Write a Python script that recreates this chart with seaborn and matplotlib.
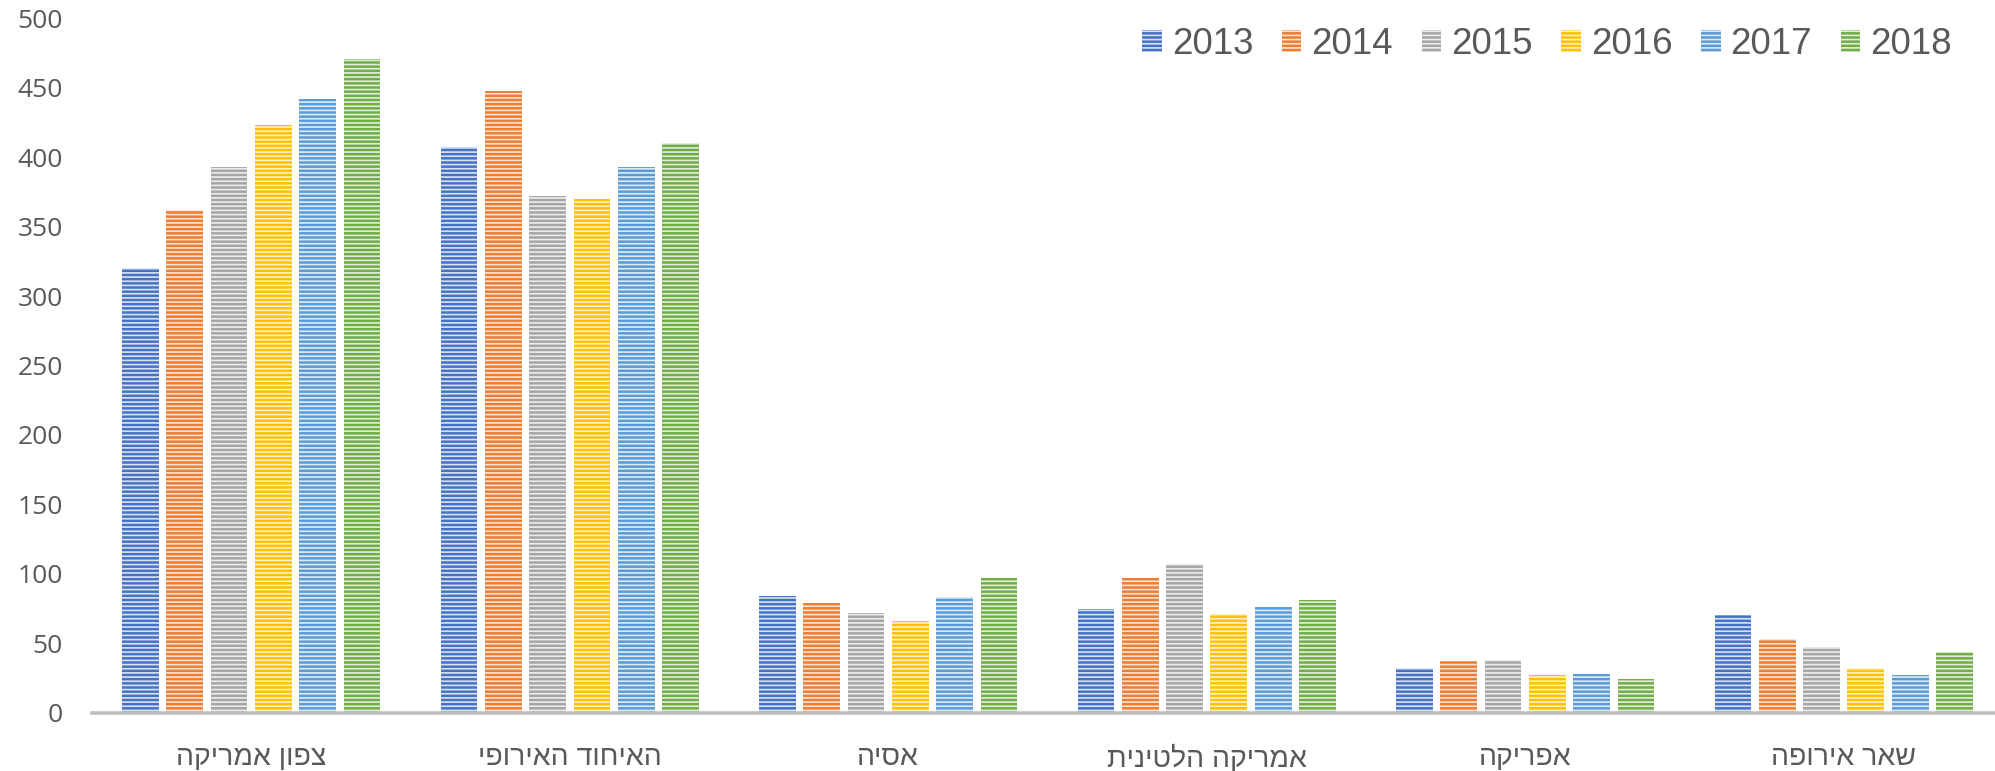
import pandas as pd
import seaborn as sns
import matplotlib.pyplot as plt
from matplotlib.patches import Patch

# ----- data -----
regions = ['צפון אמריקה', 'האיחוד האירופי', 'אסיה', 'אמריקה הלטינית', 'אפריקה', 'שאר אירופה']
years = ['2013', '2014', '2015', '2016', '2017', '2018']
v2013 = [320, 407, 84, 75, 32, 70]
v2014 = [362, 448, 79, 97, 37, 53]
v2015 = [393, 372, 72, 107, 38, 47]
v2016 = [423, 370, 66, 71, 27, 32]
v2017 = [442, 393, 83, 76, 28, 27]
v2018 = [471, 410, 97, 81, 24, 44]
colors = ['#4472C4', '#ED7D31', '#A5A5A5', '#FFC000', '#5B9BD5', '#70AD47']

series = [v2013, v2014, v2015, v2016, v2017, v2018]
rows = []
for yr, vals in zip(years, series):
    for reg, v in zip(regions, vals):
        rows.append({'region': reg[::-1], 'year': yr, 'value': v})  # reversed for RTL display
df = pd.DataFrame(rows)

sns.set_style('white')
plt.rcParams['hatch.linewidth'] = 1.2
grey = '#595959'

fig = plt.figure(figsize=(19.95, 7.71), dpi=100)
ax = fig.add_axes([92 / 1995, 1 - 712.7 / 771, 1 - 92 / 1995, (712.7 - 18.3) / 771])

sns.barplot(data=df, x='region', y='value', hue='year', palette=colors,
            width=0.835, gap=0.17, saturation=1, legend=False, ax=ax)

stripe = (1, 1, 1, 0.8)
for p in ax.patches:
    p.set_hatch('----')
    p.set_edgecolor(stripe)
    p.set_linewidth(0)

ax.set_xlim(-0.5, 5.475)
ax.set_ylim(0, 500)
ax.set_yticks(range(0, 501, 50))
ax.set_xlabel('')
ax.set_ylabel('')
for s in ['top', 'right', 'left']:
    ax.spines[s].set_visible(False)
ax.spines['bottom'].set_color('#BFBFBF')
ax.spines['bottom'].set_linewidth(2.6)
ax.tick_params(axis='both', length=0, colors=grey)
ax.tick_params(axis='y', pad=21)
ax.tick_params(axis='x', pad=23)
for t in ax.get_yticklabels():
    t.set_family(['Open Sans', 'DejaVu Sans'])
    t.set_fontsize(19)
for t in ax.get_xticklabels():
    t.set_family(['Liberation Sans', 'DejaVu Sans'])
    t.set_fontsize(20.5)

handles = [Patch(facecolor=c, edgecolor=stripe, hatch='----', linewidth=0) for c in colors]
leg = fig.legend(handles, years, loc='center right', bbox_to_anchor=(1952 / 1995, 1 - 44.5 / 771),
                 ncol=6, frameon=False, borderpad=0, borderaxespad=0,
                 handlelength=0.53, handleheight=0.55, handletextpad=0.27, columnspacing=0.78,
                 prop={'family': ['Liberation Sans', 'DejaVu Sans'], 'size': 26.5})
for t in leg.get_texts():
    t.set_color(grey)

plt.savefig('out.png', dpi=100)
